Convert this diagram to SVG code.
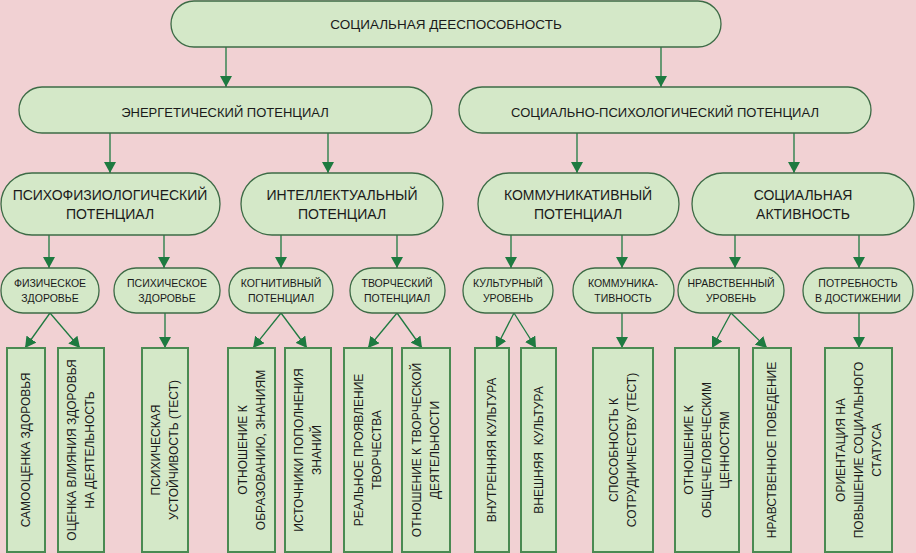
<svg xmlns="http://www.w3.org/2000/svg" width="916" height="553" viewBox="0 0 916 553">
<style>
.bg{fill:#f1d1d3}
.rn{fill:#d4e8c8;stroke:#3d6b46;stroke-width:1.3}
.bx{fill:#d4e8c8;stroke:#4a8a52;stroke-width:2}
.t{font-family:"Liberation Sans",Arial,sans-serif;fill:#1a1a1a;text-anchor:middle}
.t1{font-size:13.5px}
.t2{font-size:13px}
.t3{font-size:14px}
.t4{font-size:10.5px}
.t5{font-size:12px}
.c line{stroke:#1e7a40;stroke-width:1.3;marker-end:url(#ah)}
</style>
<defs>
<marker id="ah" markerUnits="userSpaceOnUse" markerWidth="12" markerHeight="12" viewBox="0 0 12 12" refX="11" refY="6" orient="auto">
<path d="M0,0 L11,6 L0,12 Z" fill="#1e7a40"/>
</marker>
</defs>
<rect class="bg" x="0" y="0" width="916" height="553"/>
<g id="connectors" class="c">
<line x1="226" y1="47" x2="226" y2="87"/>
<line x1="661" y1="47" x2="661" y2="87"/>
<line x1="110" y1="133" x2="110" y2="173"/>
<line x1="328" y1="133" x2="328" y2="173"/>
<line x1="577" y1="133" x2="577" y2="173"/>
<line x1="794" y1="133" x2="794" y2="173"/>
<line x1="49" y1="235" x2="49" y2="268"/>
<line x1="164" y1="235" x2="164" y2="268"/>
<line x1="281" y1="235" x2="281" y2="268"/>
<line x1="397" y1="235" x2="397" y2="268"/>
<line x1="511" y1="235" x2="511" y2="268"/>
<line x1="622" y1="235" x2="622" y2="268"/>
<line x1="735" y1="235" x2="735" y2="268"/>
<line x1="859" y1="235" x2="859" y2="268"/>
<line x1="50" y1="313" x2="25" y2="348"/>
<line x1="50" y1="313" x2="80" y2="348"/>
<line x1="165" y1="313" x2="165" y2="348"/>
<line x1="281" y1="313" x2="253" y2="348"/>
<line x1="281" y1="313" x2="307" y2="348"/>
<line x1="397" y1="313" x2="368" y2="348"/>
<line x1="397" y1="313" x2="422" y2="348"/>
<line x1="514" y1="313" x2="496" y2="348"/>
<line x1="514" y1="313" x2="536" y2="348"/>
<line x1="622" y1="313" x2="622" y2="348"/>
<line x1="731" y1="313" x2="712" y2="348"/>
<line x1="731" y1="313" x2="767" y2="348"/>
<line x1="859" y1="313" x2="859" y2="348"/>
</g>
<g id="n-root"><rect class="rn" x="171" y="1" width="550" height="46" rx="23"/><text class="t t1" x="446" y="29">СОЦИАЛЬНАЯ ДЕЕСПОСОБНОСТЬ</text></g>
<g id="n-energy"><rect class="rn" x="19" y="87" width="413" height="46" rx="23"/><text class="t t2" x="225" y="117">ЭНЕРГЕТИЧЕСКИЙ ПОТЕНЦИАЛ</text></g>
<g id="n-socpsy"><rect class="rn" x="459" y="87" width="412" height="46" rx="23"/><text class="t t2" x="665" y="117">СОЦИАЛЬНО-ПСИХОЛОГИЧЕСКИЙ ПОТЕНЦИАЛ</text></g>
<g id="n-psyphys"><rect class="rn" x="1" y="173" width="219" height="62" rx="31"/><text class="t t3" x="110" y="200">ПСИХОФИЗИОЛОГИЧЕСКИЙ</text><text class="t t3" x="110" y="219">ПОТЕНЦИАЛ</text></g>
<g id="n-intel"><rect class="rn" x="241" y="173" width="202" height="62" rx="31"/><text class="t t3" x="342" y="200">ИНТЕЛЛЕКТУАЛЬНЫЙ</text><text class="t t3" x="342" y="219">ПОТЕНЦИАЛ</text></g>
<g id="n-comm"><rect class="rn" x="478" y="173" width="201" height="62" rx="31"/><text class="t t3" x="578" y="200">КОММУНИКАТИВНЫЙ</text><text class="t t3" x="578" y="219">ПОТЕНЦИАЛ</text></g>
<g id="n-socact"><rect class="rn" x="692" y="173" width="222" height="62" rx="31"/><text class="t t3" x="803" y="200">СОЦИАЛЬНАЯ</text><text class="t t3" x="803" y="219">АКТИВНОСТЬ</text></g>
<g id="n-fiz"><rect class="rn" x="1" y="268" width="98" height="45" rx="22"/><text class="t t4" x="50" y="287">ФИЗИЧЕСКОЕ</text><text class="t t4" x="50" y="302">ЗДОРОВЬЕ</text></g>
<g id="n-psih"><rect class="rn" x="114" y="268" width="106" height="45" rx="22"/><text class="t t4" x="167" y="287">ПСИХИЧЕСКОЕ</text><text class="t t4" x="167" y="302">ЗДОРОВЬЕ</text></g>
<g id="n-kogn"><rect class="rn" x="229" y="268" width="104" height="45" rx="22"/><text class="t t4" x="281" y="287">КОГНИТИВНЫЙ</text><text class="t t4" x="281" y="302">ПОТЕНЦИАЛ</text></g>
<g id="n-tvor"><rect class="rn" x="350" y="268" width="95" height="45" rx="22"/><text class="t t4" x="397" y="287">ТВОРЧЕСКИЙ</text><text class="t t4" x="397" y="302">ПОТЕНЦИАЛ</text></g>
<g id="n-kult"><rect class="rn" x="463" y="268" width="90" height="45" rx="22"/><text class="t t4" x="508" y="287">КУЛЬТУРНЫЙ</text><text class="t t4" x="508" y="302">УРОВЕНЬ</text></g>
<g id="n-kommun"><rect class="rn" x="573" y="268" width="101" height="45" rx="22"/><text class="t t4" x="623" y="287">КОММУНИКА-</text><text class="t t4" x="623" y="302">ТИВНОСТЬ</text></g>
<g id="n-nrav"><rect class="rn" x="678" y="268" width="106" height="45" rx="22"/><text class="t t4" x="731" y="287">НРАВСТВЕННЫЙ</text><text class="t t4" x="731" y="302">УРОВЕНЬ</text></g>
<g id="n-potr"><rect class="rn" x="803" y="268" width="110" height="45" rx="22"/><text class="t t4" x="858" y="287">ПОТРЕБНОСТЬ</text><text class="t t4" x="858" y="302">В ДОСТИЖЕНИИ</text></g>
<g id="b1"><rect class="bx" x="7" y="348" width="38" height="204"/><text class="t t5" transform="translate(26,450) rotate(-90)" x="0" y="4">САМООЦЕНКА ЗДОРОВЬЯ</text></g>
<g id="b2"><rect class="bx" x="58" y="348" width="46" height="204"/><text class="t t5" transform="translate(81,450) rotate(-90)"><tspan x="0" y="-5">ОЦЕНКА ВЛИЯНИЯ ЗДОРОВЬЯ</tspan><tspan x="0" y="13">НА ДЕЯТЕЛЬНОСТЬ</tspan></text></g>
<g id="b3"><rect class="bx" x="142" y="348" width="46" height="204"/><text class="t t5" transform="translate(165,450) rotate(-90)"><tspan x="0" y="-5">ПСИХИЧЕСКАЯ</tspan><tspan x="0" y="13">УСТОЙЧИВОСТЬ (ТЕСТ)</tspan></text></g>
<g id="b4"><rect class="bx" x="228" y="348" width="47" height="204"/><text class="t t5" transform="translate(251.5,450) rotate(-90)"><tspan x="0" y="-5">ОТНОШЕНИЕ К</tspan><tspan x="0" y="13">ОБРАЗОВАНИЮ, ЗНАНИЯМ</tspan></text></g>
<g id="b5"><rect class="bx" x="285" y="348" width="46" height="204"/><text class="t t5" transform="translate(308,450) rotate(-90)"><tspan x="0" y="-5">ИСТОЧНИКИ ПОПОЛНЕНИЯ</tspan><tspan x="0" y="13">ЗНАНИЙ</tspan></text></g>
<g id="b6"><rect class="bx" x="344" y="348" width="48" height="204"/><text class="t t5" transform="translate(368,450) rotate(-90)"><tspan x="0" y="-5">РЕАЛЬНОЕ ПРОЯВЛЕНИЕ</tspan><tspan x="0" y="13">ТВОРЧЕСТВА</tspan></text></g>
<g id="b7"><rect class="bx" x="402" y="348" width="48" height="204"/><text class="t t5" transform="translate(426,450) rotate(-90)"><tspan x="0" y="-5">ОТНОШЕНИЕ К ТВОРЧЕСКОЙ</tspan><tspan x="0" y="13">ДЕЯТЕЛЬНОСТИ</tspan></text></g>
<g id="b8"><rect class="bx" x="475" y="348" width="34" height="204"/><text class="t t5" transform="translate(492,450) rotate(-90)" x="0" y="4">ВНУТРЕННЯЯ КУЛЬТУРА</text></g>
<g id="b9"><rect class="bx" x="521" y="348" width="35" height="204"/><text class="t t5" transform="translate(538.5,450) rotate(-90)" x="0" y="4" style="white-space:pre">ВНЕШНЯЯ  КУЛЬТУРА</text></g>
<g id="b10"><rect class="bx" x="593" y="348" width="60" height="204"/><text class="t t5" transform="translate(623,450) rotate(-90)"><tspan x="0" y="-5">СПОСОБНОСТЬ К</tspan><tspan x="0" y="13">СОТРУДНИЧЕСТВУ (ТЕСТ)</tspan></text></g>
<g id="b11"><rect class="bx" x="675" y="348" width="64" height="204"/><text class="t t5" transform="translate(707,450) rotate(-90)"><tspan x="0" y="-14">ОТНОШЕНИЕ К</tspan><tspan x="0" y="4">ОБЩЕЧЕЛОВЕЧЕСКИМ</tspan><tspan x="0" y="22">ЦЕННОСТЯМ</tspan></text></g>
<g id="b12"><rect class="bx" x="753" y="348" width="38" height="204"/><text class="t t5" transform="translate(772,450) rotate(-90)" x="0" y="4">НРАВСТВЕННОЕ ПОВЕДЕНИЕ</text></g>
<g id="b13"><rect class="bx" x="825" y="348" width="67" height="204"/><text class="t t5" transform="translate(858.5,450) rotate(-90)"><tspan x="0" y="-14">ОРИЕНТАЦИЯ НА</tspan><tspan x="0" y="4">ПОВЫШЕНИЕ СОЦИАЛЬНОГО</tspan><tspan x="0" y="22">СТАТУСА</tspan></text></g>
</svg>
